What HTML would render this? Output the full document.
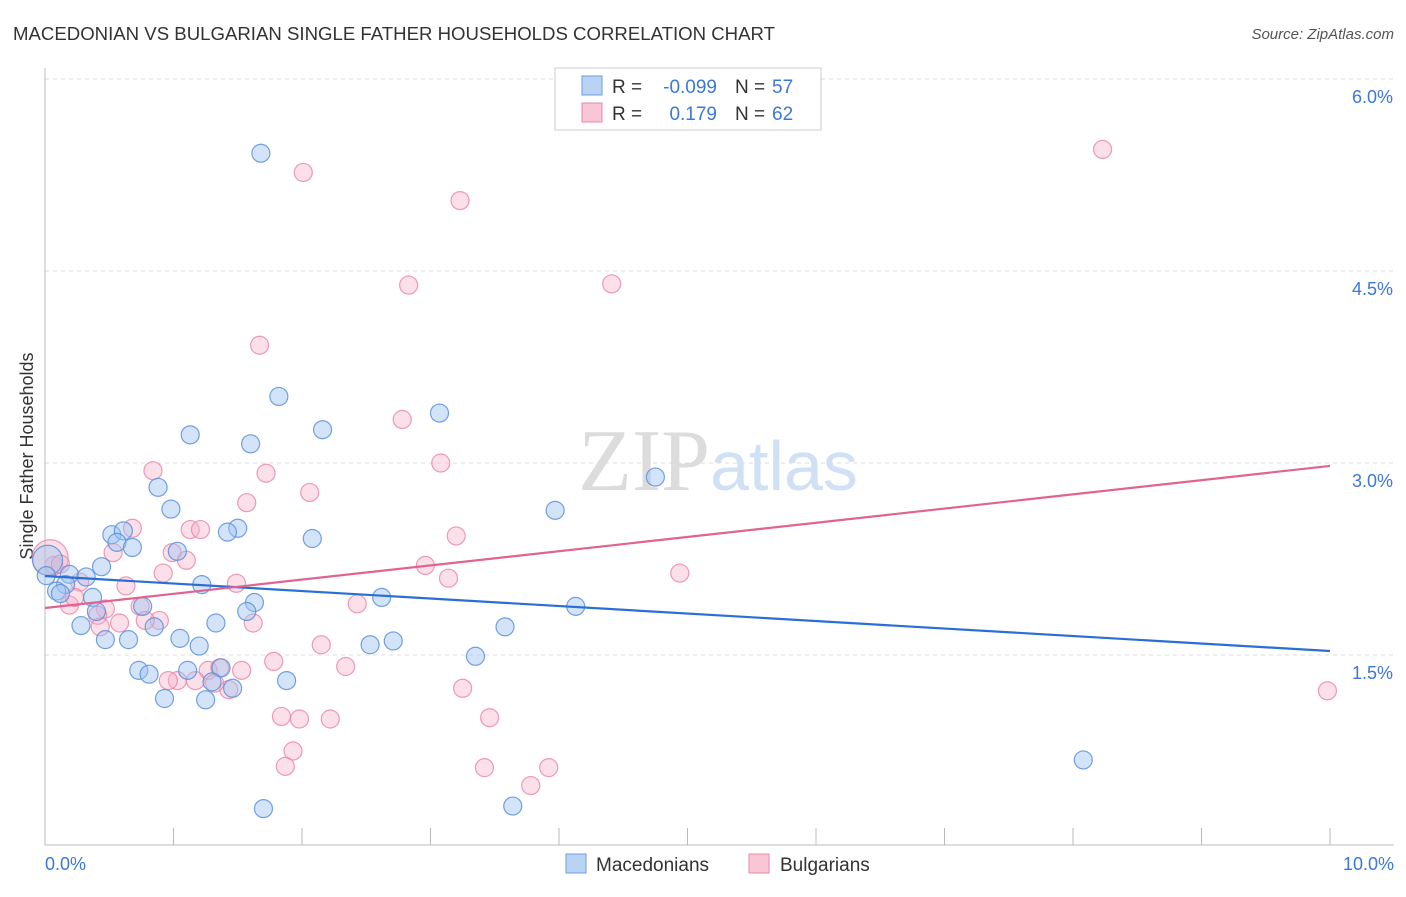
<!DOCTYPE html>
<html><head><meta charset="utf-8"><style>
body{margin:0;background:#fff;font-family:"Liberation Sans",sans-serif}
svg text{font-family:"Liberation Sans",sans-serif}
</style></head><body>
<svg id="chart" width="1406" height="892" viewBox="0 0 1406 892">
<text x="13" y="40" font-size="18" fill="#333" textLength="762" lengthAdjust="spacingAndGlyphs">MACEDONIAN VS BULGARIAN SINGLE FATHER HOUSEHOLDS CORRELATION CHART</text>
<text x="1394" y="39" font-size="15" fill="#555" text-anchor="end" font-style="italic">Source: ZipAtlas.com</text>
<text x="718" y="490" font-size="88" text-anchor="middle"><tspan fill="#dcdcdc" font-family="Liberation Serif">ZIP</tspan><tspan fill="#d0e0f5" font-size="70">atlas</tspan></text>
<text transform="translate(33,456) rotate(-90)" font-size="18" fill="#333" text-anchor="middle">Single Father Households</text>
<g id="grid"></g><g id="axes"></g><g id="pts"></g><g id="trend"></g>
<g>
<rect x="555" y="68" width="266" height="62" fill="#fff" stroke="#ccc"/>
<rect x="582" y="76" width="20" height="19" fill="#b9d3f5" stroke="#6a9fe0"/>
<rect x="582" y="103" width="20" height="19" fill="#f9c6d5" stroke="#e88aa8"/>
<text x="612" y="93" font-size="19" fill="#333">R =</text>
<text x="717" y="93" font-size="19" fill="#3b78d8" text-anchor="end">-0.099</text>
<text x="735" y="93" font-size="19" fill="#333">N =</text>
<text x="772" y="93" font-size="19" fill="#3b78d8">57</text>
<text x="612" y="120" font-size="19" fill="#333">R =</text>
<text x="717" y="120" font-size="19" fill="#3b78d8" text-anchor="end">0.179</text>
<text x="735" y="120" font-size="19" fill="#333">N =</text>
<text x="772" y="120" font-size="19" fill="#3b78d8">62</text>
</g>
<g>
<rect x="566" y="854" width="20" height="19" fill="#b9d3f5" stroke="#6a9fe0"/>
<text x="596" y="871" font-size="19" fill="#333">Macedonians</text>
<rect x="749" y="854" width="20" height="19" fill="#f9c6d5" stroke="#e88aa8"/>
<text x="780" y="871" font-size="19" fill="#333">Bulgarians</text>
</g>
</svg>
<script>
const xTicks=["0.0%","10.0%"];
const yTickVals=[1.5,3.0,4.5,6.0];
const yTickLabels=["1.5%","3.0%","4.5%","6.0%"];
const blueX=[1.68,1.82,1.13,1.60,2.16,3.07,4.75,0.88,0.98,3.97,0.52,0.61,1.50,1.42,0.56,2.08,0.68,1.03,0.44,0.19,0.32,0.16,0.09,1.22,2.62,0.37,0.12,1.63,0.76,0.40,1.57,4.13,0.28,0.85,1.33,3.58,1.05,0.47,0.65,1.20,2.53,2.71,3.35,0.73,0.81,1.11,1.37,1.30,1.88,1.46,0.93,1.25,8.08,1.70,3.64,0.02,0.01];
const blueY=[5.42,3.52,3.22,3.15,3.26,3.39,2.89,2.81,2.64,2.63,2.44,2.47,2.49,2.46,2.38,2.41,2.34,2.31,2.19,2.13,2.11,2.05,2.00,2.05,1.95,1.95,1.98,1.91,1.88,1.84,1.84,1.88,1.73,1.72,1.75,1.72,1.63,1.62,1.62,1.57,1.58,1.61,1.49,1.38,1.35,1.38,1.40,1.29,1.30,1.24,1.16,1.15,0.68,0.30,0.32,2.24,2.12];
const blueR=[9,9,9,9,9,9,9,9,9,9,9,9,9,9,9,9,9,9,9,9,9,9,9,9,9,9,9,9,9,9,9,9,9,9,9,9,9,9,9,9,9,9,9,9,9,9,9,9,9,9,9,9,9,9,9,15,9];
const pinkX=[2.01,3.23,8.23,2.83,4.41,1.67,2.78,3.08,0.84,1.72,2.06,1.57,0.68,1.13,1.21,3.20,0.53,0.99,2.96,1.10,0.92,4.94,3.14,0.07,1.49,0.63,0.27,2.43,0.74,0.19,0.47,0.89,0.58,0.41,1.62,0.43,2.15,1.78,2.34,1.53,1.27,1.03,1.36,1.17,1.43,3.25,9.98,1.84,1.98,2.22,3.46,1.93,1.87,3.42,3.92,3.78,0.04,0.12,0.23,0.78,0.96,1.32];
const pinkY=[5.27,5.05,5.45,4.39,4.40,3.92,3.34,3.00,2.94,2.92,2.77,2.69,2.49,2.48,2.48,2.43,2.30,2.30,2.20,2.24,2.14,2.14,2.10,2.20,2.06,2.04,2.07,1.90,1.88,1.89,1.86,1.77,1.75,1.81,1.75,1.72,1.58,1.45,1.41,1.38,1.38,1.30,1.40,1.30,1.23,1.24,1.22,1.02,1.00,1.00,1.01,0.75,0.63,0.62,0.62,0.48,2.26,2.21,1.95,1.77,1.30,1.28];
const pinkR=[9,9,9,9,9,9,9,9,9,9,9,9,9,9,9,9,9,9,9,9,9,9,9,9,9,9,9,9,9,9,9,9,9,9,9,9,9,9,9,9,9,9,9,9,9,9,9,9,9,9,9,9,9,9,9,9,18,9,9,9,9,9];
const blueTrend=[2.117,1.531];
const pinkTrend=[1.867,2.977];
const NS="http://www.w3.org/2000/svg";
const X0=45,X1=1330,Y0=847;
function xs(v){return X0+(v/10)*(X1-X0);}
function ys(v){return Y0-v*128;}
function mk(t,a,p){const e=document.createElementNS(NS,t);for(const k in a)e.setAttribute(k,a[k]);p.appendChild(e);return e;}
const grid=document.getElementById('grid'),axes=document.getElementById('axes'),pts=document.getElementById('pts'),tr=document.getElementById('trend');
yTickVals.forEach((v,i)=>{
 const l=mk('line',{x1:X0,x2:1394,y1:ys(v),y2:ys(v),stroke:'#ddd','stroke-dasharray':'4,4'},grid);
 
 
 const t=mk('text',{x:1393,y:ys(v)+24,'font-size':18,fill:'#3b78d8','text-anchor':'end'},grid);
 t.textContent=yTickLabels[i];
 
 
});
const ax=mk('path',{d:`M${X0},68V845H1394`,stroke:'#bbb',fill:'none'},axes);


for(let i=1;i<=10;i++){const tk=mk('line',{x1:xs(i),x2:xs(i),y1:828,y2:845,stroke:'#bbb'},axes);
 
 }
[[0,'start',45],[10,'end',1394]].forEach((a,i)=>{const t=mk('text',{x:a[2],y:870,'font-size':18,fill:'#3b78d8','text-anchor':a[1]},axes);t.textContent=xTicks[i];
 
 });
function draw(X,Y,R,fill,stroke,name){X.forEach((v,i)=>{const c=mk('circle',{cx:xs(v),cy:ys(Y[i]),r:R[i],fill:fill,stroke:stroke,'stroke-width':1.2},pts);
 
 });}
draw(pinkX,pinkY,pinkR,'rgba(248,178,200,0.4)','rgba(232,130,165,0.8)','bulgarian-point');
draw(blueX,blueY,blueR,'rgba(160,195,240,0.45)','rgba(90,145,220,0.85)','macedonian-point');
const bl=mk('line',{x1:xs(0),y1:ys(blueTrend[0]),x2:xs(10),y2:ys(blueTrend[1]),stroke:'#2a6fd6','stroke-width':2.2},tr);


const pl=mk('line',{x1:xs(0),y1:ys(pinkTrend[0]),x2:xs(10),y2:ys(pinkTrend[1]),stroke:'#e0648f','stroke-width':2.2},tr);


</script>
</body></html>
